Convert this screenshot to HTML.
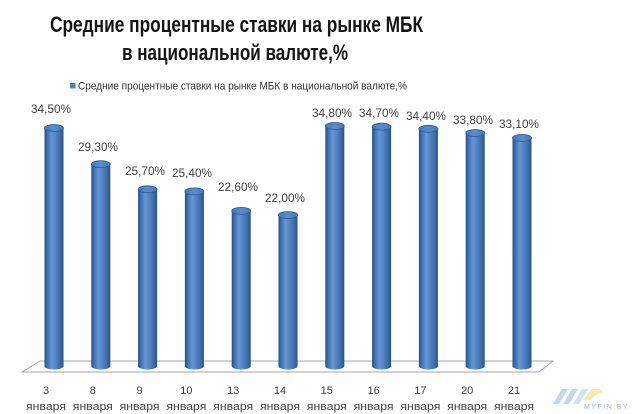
<!DOCTYPE html>
<html>
<head>
<meta charset="utf-8">
<style>
html,body{margin:0;padding:0;background:#fff;}
svg{display:block;}
text{font-family:"Liberation Sans","DejaVu Sans",sans-serif;}
</style>
</head>
<body>
<svg width="640" height="414" viewBox="0 0 640 414" xmlns="http://www.w3.org/2000/svg">
<defs>
<linearGradient id="cyl" x1="0" x2="1" y1="0" y2="0">
<stop offset="0" stop-color="#244d80"/>
<stop offset="0.12" stop-color="#3a6cab"/>
<stop offset="0.38" stop-color="#6796d3"/>
<stop offset="0.55" stop-color="#5787c8"/>
<stop offset="0.85" stop-color="#3b6aa8"/>
<stop offset="1" stop-color="#26507f"/>
</linearGradient>
<linearGradient id="topg" x1="0" x2="1" y1="0" y2="0">
<stop offset="0" stop-color="#4377b8"/>
<stop offset="0.5" stop-color="#5b8dcc"/>
<stop offset="1" stop-color="#4377b8"/>
</linearGradient>
</defs>
<rect width="640" height="414" fill="#fff"/>

<!-- Title -->
<text x="50" y="32" font-size="22" font-weight="bold" fill="#151515" textLength="373" lengthAdjust="spacingAndGlyphs">Средние процентные ставки на рынке МБК</text>
<text x="122" y="60" font-size="22" font-weight="bold" fill="#151515" textLength="226" lengthAdjust="spacingAndGlyphs">в национальной валюте,%</text>

<!-- Legend -->
<rect x="70" y="83" width="5.5" height="5.5" fill="#4f81bd"/>
<text x="78" y="89.5" font-size="11" fill="#333" textLength="329" lengthAdjust="spacingAndGlyphs">Средние процентные ставки на рынке МБК в национальной валюте,%</text>

<!-- Floor -->
<polygon points="22,372 40,361 553,361 539,372" fill="#fdfdfd" stroke="#a6a6a6" stroke-width="1"/>

<!-- Bars -->
<g id="bars">
<!-- bar template: center cx, top t, bottom 366 -->
<g>
<path d="M44.5,128 L44.5,366 A9.5,3.5 0 0 0 63.5,366 L63.5,128 Z" fill="url(#cyl)"/>
<ellipse cx="54" cy="128" rx="9.5" ry="3.5" fill="url(#topg)" stroke="#2c5a92" stroke-width="0.8"/>
</g>
<g>
<path d="M91.3,164.2 L91.3,366 A9.5,3.5 0 0 0 110.3,366 L110.3,164.2 Z" fill="url(#cyl)"/>
<ellipse cx="100.8" cy="164.2" rx="9.5" ry="3.5" fill="url(#topg)" stroke="#2c5a92" stroke-width="0.8"/>
</g>
<g>
<path d="M138.1,189.3 L138.1,366 A9.5,3.5 0 0 0 157.1,366 L157.1,189.3 Z" fill="url(#cyl)"/>
<ellipse cx="147.6" cy="189.3" rx="9.5" ry="3.5" fill="url(#topg)" stroke="#2c5a92" stroke-width="0.8"/>
</g>
<g>
<path d="M184.9,191.4 L184.9,366 A9.5,3.5 0 0 0 203.9,366 L203.9,191.4 Z" fill="url(#cyl)"/>
<ellipse cx="194.4" cy="191.4" rx="9.5" ry="3.5" fill="url(#topg)" stroke="#2c5a92" stroke-width="0.8"/>
</g>
<g>
<path d="M231.7,210.9 L231.7,366 A9.5,3.5 0 0 0 250.7,366 L250.7,210.9 Z" fill="url(#cyl)"/>
<ellipse cx="241.2" cy="210.9" rx="9.5" ry="3.5" fill="url(#topg)" stroke="#2c5a92" stroke-width="0.8"/>
</g>
<g>
<path d="M278.5,215 L278.5,366 A9.5,3.5 0 0 0 297.5,366 L297.5,215 Z" fill="url(#cyl)"/>
<ellipse cx="288" cy="215" rx="9.5" ry="3.5" fill="url(#topg)" stroke="#2c5a92" stroke-width="0.8"/>
</g>
<g>
<path d="M325.3,126 L325.3,366 A9.5,3.5 0 0 0 344.3,366 L344.3,126 Z" fill="url(#cyl)"/>
<ellipse cx="334.8" cy="126" rx="9.5" ry="3.5" fill="url(#topg)" stroke="#2c5a92" stroke-width="0.8"/>
</g>
<g>
<path d="M372.1,126.7 L372.1,366 A9.5,3.5 0 0 0 391.1,366 L391.1,126.7 Z" fill="url(#cyl)"/>
<ellipse cx="381.6" cy="126.7" rx="9.5" ry="3.5" fill="url(#topg)" stroke="#2c5a92" stroke-width="0.8"/>
</g>
<g>
<path d="M418.9,128.8 L418.9,366 A9.5,3.5 0 0 0 437.9,366 L437.9,128.8 Z" fill="url(#cyl)"/>
<ellipse cx="428.4" cy="128.8" rx="9.5" ry="3.5" fill="url(#topg)" stroke="#2c5a92" stroke-width="0.8"/>
</g>
<g>
<path d="M465.7,133 L465.7,366 A9.5,3.5 0 0 0 484.7,366 L484.7,133 Z" fill="url(#cyl)"/>
<ellipse cx="475.2" cy="133" rx="9.5" ry="3.5" fill="url(#topg)" stroke="#2c5a92" stroke-width="0.8"/>
</g>
<g>
<path d="M512.5,137.9 L512.5,366 A9.5,3.5 0 0 0 531.5,366 L531.5,137.9 Z" fill="url(#cyl)"/>
<ellipse cx="522" cy="137.9" rx="9.5" ry="3.5" fill="url(#topg)" stroke="#2c5a92" stroke-width="0.8"/>
</g>
</g>

<!-- Data labels -->
<g font-size="11.5" fill="#404040" text-anchor="middle">
<text x="51" y="113" textLength="40" lengthAdjust="spacingAndGlyphs">34,50%</text>
<text x="98" y="151" textLength="40" lengthAdjust="spacingAndGlyphs">29,30%</text>
<text x="145" y="175" textLength="40" lengthAdjust="spacingAndGlyphs">25,70%</text>
<text x="192" y="177" textLength="40" lengthAdjust="spacingAndGlyphs">25,40%</text>
<text x="238" y="191" textLength="40" lengthAdjust="spacingAndGlyphs">22,60%</text>
<text x="285" y="202" textLength="40" lengthAdjust="spacingAndGlyphs">22,00%</text>
<text x="332" y="117" textLength="40" lengthAdjust="spacingAndGlyphs">34,80%</text>
<text x="379" y="117" textLength="40" lengthAdjust="spacingAndGlyphs">34,70%</text>
<text x="426" y="120" textLength="40" lengthAdjust="spacingAndGlyphs">34,40%</text>
<text x="473" y="124" textLength="40" lengthAdjust="spacingAndGlyphs">33,80%</text>
<text x="519" y="128" textLength="40" lengthAdjust="spacingAndGlyphs">33,10%</text>
</g>

<!-- X labels -->
<g font-size="11" fill="#404040" text-anchor="middle">
<text x="46" y="394">3</text>
<text x="92.8" y="394">8</text>
<text x="139.6" y="394">9</text>
<text x="186.4" y="394">10</text>
<text x="233.2" y="394">13</text>
<text x="280" y="394">14</text>
<text x="326.8" y="394">15</text>
<text x="373.6" y="394">16</text>
<text x="420.4" y="394">17</text>
<text x="467.2" y="394">20</text>
<text x="514" y="394">21</text>
</g>
<g font-size="11" fill="#404040" text-anchor="middle">
<text x="46" y="410" textLength="40" lengthAdjust="spacingAndGlyphs">января</text>
<text x="92.8" y="410" textLength="40" lengthAdjust="spacingAndGlyphs">января</text>
<text x="139.6" y="410" textLength="40" lengthAdjust="spacingAndGlyphs">января</text>
<text x="186.4" y="410" textLength="40" lengthAdjust="spacingAndGlyphs">января</text>
<text x="233.2" y="410" textLength="40" lengthAdjust="spacingAndGlyphs">января</text>
<text x="280" y="410" textLength="40" lengthAdjust="spacingAndGlyphs">января</text>
<text x="326.8" y="410" textLength="40" lengthAdjust="spacingAndGlyphs">января</text>
<text x="373.6" y="410" textLength="40" lengthAdjust="spacingAndGlyphs">января</text>
<text x="420.4" y="410" textLength="40" lengthAdjust="spacingAndGlyphs">января</text>
<text x="467.2" y="410" textLength="40" lengthAdjust="spacingAndGlyphs">января</text>
<text x="514" y="410" textLength="40" lengthAdjust="spacingAndGlyphs">января</text>
</g>

<!-- Watermark -->
<g opacity="0.55">
<polygon points="553,404 562,389 568,389 559,404" fill="#8fb8e0"/>
<polygon points="563,404 572,389 578,389 569,404" fill="#8fb8e0"/>
<polygon points="573,404 582,389 588,389 579,404" fill="#a9c9e8"/>
<polygon points="583,400 592,389 600,389 591,400" fill="#f2d96a"/>
<polygon points="588,394 600,389 603,392 591,397" fill="#f2d96a"/>
</g>
<text x="584" y="409" font-size="7" fill="#9ab4cf" letter-spacing="1.5">MYFIN<tspan fill="#e3c75a">.</tspan>BY</text>
</svg>
</body>
</html>
